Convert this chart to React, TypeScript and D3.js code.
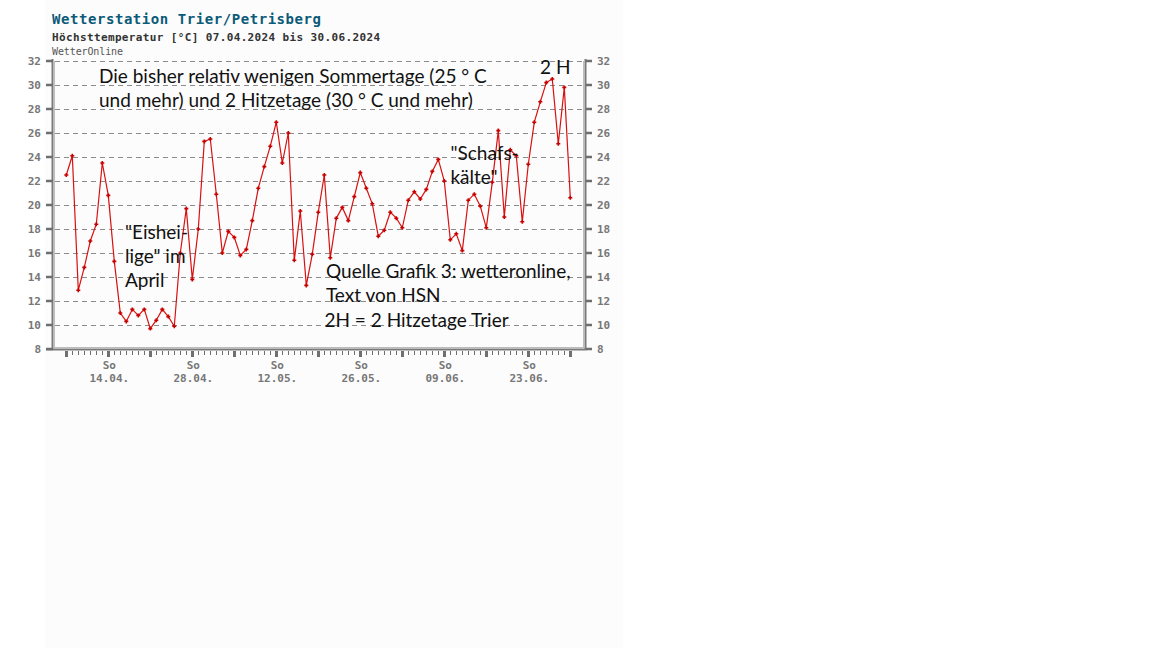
import React, { useRef, useEffect } from "react";
import * as d3 from "d3";

// Tageshöchsttemperatur Trier/Petrisberg, ab 07.04.2024 (Sonntag), ein Wert pro Tag
const startDate = "2024-04-07";
const endDate = "2024-06-30";
const temps: number[] = [
  22.5, 24.1, 12.9, 14.8, 17.0, 18.4, 23.5, 20.8, 15.3, 11.0,
  10.3, 11.3, 10.8, 11.3, 9.7, 10.4, 11.3, 10.7, 9.9, 16.0,
  19.7, 13.8, 18.0, 25.3, 25.5, 20.9, 16.0, 17.8, 17.3, 15.8,
  16.3, 18.7, 21.4, 23.2, 24.9, 26.9, 23.5, 26.0, 15.4, 19.5,
  13.3, 15.9, 19.4, 22.5, 15.6, 18.9, 19.8, 18.7, 20.7, 22.7,
  21.4, 20.1, 17.4, 17.9, 19.4, 18.9, 18.1, 20.4, 21.1, 20.5,
  21.3, 22.8, 23.8, 22.0, 17.1, 17.6, 16.2, 20.4, 20.9, 19.9,
  18.1, 21.9, 26.2, 19.0, 24.6, 24.1, 18.6, 23.4, 26.9, 28.6,
  30.2, 30.5, 25.1, 29.8, 20.6,
];
const yTicks = [8, 10, 12, 14, 16, 18, 20, 22, 24, 26, 28, 30, 32];
const xLabelDates = ["2024-04-14", "2024-04-28", "2024-05-12", "2024-05-26", "2024-06-09", "2024-06-23"];

const title = "Wetterstation Trier/Petrisberg";
const subtitle = "Höchsttemperatur [°C] 07.04.2024 bis 30.06.2024";
const source = "WetterOnline";

// Anmerkungen (Text, Anker in Datenkoordinaten: Datum mit Tagesbruchteil, Temperatur der Grundlinie)
const notes: { lines: string[]; date: string; temp: number }[] = [
  { lines: ["Die bisher relativ wenigen Sommertage (25 ° C", "und mehr) und 2 Hitzetage (30 ° C und mehr)"], date: "2024-04-12.45", temp: 30.17 },
  { lines: ["\"Eishei-", "lige\" im", "April"], date: "2024-04-16.78", temp: 17.17 },
  { lines: ["Quelle Grafik 3: wetteronline,", "Text von HSN"], date: "2024-05-20.28", temp: 13.92 },
  { lines: ["2H = 2 Hitzetage Trier"], date: "2024-05-20.03", temp: 9.83 },
  { lines: ["\"Schafs-", "kälte\""], date: "2024-06-10.03", temp: 23.75 },
  { lines: ["2 H"], date: "2024-06-24.95", temp: 30.92 },
];

const parseDate = (s: string) => {
  const [y, m, d] = s.split("-");
  const day = parseFloat(d);
  const base = new Date(+y, +m - 1, Math.floor(day));
  return new Date(base.getTime() + (day - Math.floor(day)) * 864e5);
};

const App: React.FC = () => {
  const ref = useRef<SVGSVGElement>(null);

  useEffect(() => {
    const svg = d3.select(ref.current);
    svg.selectAll("*").remove();

    const width = 1152,
      height = 648;
    const plot = { left: 53, right: 584, top: 61, bottom: 349 };

    const start = parseDate(startDate);
    const data = temps.map((t, i) => ({ date: d3.timeDay.offset(start, i), temp: t }));

    const x = d3
      .scaleTime()
      .domain([start, parseDate(endDate)])
      .range([66.3, 570.3]);
    const y = d3.scaleLinear().domain([8, 32]).range([plot.bottom, plot.top]);

    const mono = "'DejaVu Sans Mono', monospace";
    const gray = "#777";

    // faint background panel
    svg.append("rect").attr("x", 0).attr("y", 0).attr("width", width).attr("height", height).attr("fill", "#fff");
    svg.append("rect").attr("x", 45).attr("y", 0).attr("width", 578).attr("height", height).attr("fill", "#fcfcfc");

    // Titles
    svg
      .append("text")
      .attr("x", 52)
      .attr("y", 24)
      .attr("textLength", 269)
      .style("font-family", mono)
      .style("font-weight", "bold")
      .style("font-size", "14px")
      .style("fill", "#0b5a78")
      .text(title);
    svg
      .append("text")
      .attr("x", 52)
      .attr("y", 41)
      .attr("textLength", 328)
      .style("font-family", mono)
      .style("font-weight", "bold")
      .style("font-size", "11px")
      .style("fill", "#333")
      .text(subtitle);
    svg
      .append("text")
      .attr("x", 52)
      .attr("y", 55)
      .attr("textLength", 71)
      .style("font-family", mono)
      .style("font-size", "10px")
      .style("fill", "#555")
      .text(source);

    // Grid lines
    svg
      .append("g")
      .selectAll("line")
      .data(yTicks.filter((t) => t > 8))
      .enter()
      .append("line")
      .attr("x1", plot.left + 2)
      .attr("x2", plot.right - 2)
      .attr("y1", (d) => y(d) + 0.5)
      .attr("y2", (d) => y(d) + 0.5)
      .attr("stroke", "#8c8c8c")
      .attr("stroke-dasharray", "5,4");

    // Axis frame
    const frame = svg.append("g").attr("stroke", "#7a7a7a").attr("stroke-width", 2);
    frame.append("line").attr("x1", plot.left - 0.5).attr("x2", plot.left - 0.5).attr("y1", plot.top - 2).attr("y2", plot.bottom + 1);
    frame.append("line").attr("x1", plot.right + 1.5).attr("x2", plot.right + 1.5).attr("y1", plot.top - 2).attr("y2", plot.bottom + 1);
    frame.append("line").attr("x1", 46).attr("x2", plot.right + 2.5).attr("y1", plot.bottom + 0.5).attr("y2", plot.bottom + 0.5);
    const inner = svg.append("g").attr("stroke", "#bdbdbd").attr("stroke-width", 1);
    inner.append("line").attr("x1", plot.left + 1.5).attr("x2", plot.left + 1.5).attr("y1", plot.top).attr("y2", plot.bottom - 1);
    inner.append("line").attr("x1", plot.right - 0.5).attr("x2", plot.right - 0.5).attr("y1", plot.top).attr("y2", plot.bottom - 1);
    inner.append("line").attr("x1", plot.left + 1).attr("x2", plot.right).attr("y1", plot.bottom - 1.5).attr("y2", plot.bottom - 1.5);

    // Y ticks + labels, left and right
    const yAxis = svg.append("g");
    yTicks.forEach((t) => {
      yAxis.append("line").attr("x1", 46).attr("x2", plot.left).attr("y1", y(t)).attr("y2", y(t)).attr("stroke", "#6f6f6f").attr("stroke-width", 2.5);
      yAxis.append("line").attr("x1", plot.right + 2).attr("x2", plot.right + 8).attr("y1", y(t)).attr("y2", y(t)).attr("stroke", "#6f6f6f").attr("stroke-width", 2.5);
      yAxis
        .append("text")
        .attr("x", 41)
        .attr("y", y(t) + 4)
        .attr("text-anchor", "end")
        .style("font-family", mono)
        .style("font-weight", "bold")
        .style("font-size", "11px")
        .style("fill", gray)
        .text(t);
      yAxis
        .append("text")
        .attr("x", 597)
        .attr("y", y(t) + 4)
        .style("font-family", mono)
        .style("font-weight", "bold")
        .style("font-size", "11px")
        .style("fill", gray)
        .text(t);
    });

    // X ticks: daily minor, weekly (Sunday) major
    const xAxis = svg.append("g");
    xAxis
      .selectAll("line.minor")
      .data(data)
      .enter()
      .append("line")
      .attr("x1", (d) => Math.round(x(d.date)) + 0.5)
      .attr("x2", (d) => Math.round(x(d.date)) + 0.5)
      .attr("y1", plot.bottom + 2)
      .attr("y2", plot.bottom + 6)
      .attr("stroke", "#6f6f6f")
      .attr("stroke-width", 1);
    xAxis
      .selectAll("line.major")
      .data(d3.timeSunday.range(start, d3.timeDay.offset(parseDate(endDate), 1)))
      .enter()
      .append("line")
      .attr("x1", (d) => Math.round(x(d)) + 0.5)
      .attr("x2", (d) => Math.round(x(d)) + 0.5)
      .attr("y1", plot.bottom + 2)
      .attr("y2", plot.bottom + 8)
      .attr("stroke", "#6f6f6f")
      .attr("stroke-width", 3);
    const fmt = d3.timeFormat("%d.%m.");
    xLabelDates.map(parseDate).forEach((d) => {
      xAxis
        .append("text")
        .attr("x", x(d) + 1)
        .attr("y", 369)
        .attr("text-anchor", "middle")
        .style("font-family", mono)
        .style("font-weight", "bold")
        .style("font-size", "11px")
        .style("fill", gray)
        .text("So");
      xAxis
        .append("text")
        .attr("x", x(d) + 1)
        .attr("y", 382)
        .attr("text-anchor", "middle")
        .style("font-family", mono)
        .style("font-weight", "bold")
        .style("font-size", "11px")
        .style("fill", gray)
        .text(fmt(d));
    });

    // Temperature line
    const line = d3
      .line<{ date: Date; temp: number }>()
      .x((d) => x(d.date))
      .y((d) => y(d.temp));
    svg
      .append("path")
      .datum(data)
      .attr("fill", "none")
      .attr("stroke", "#d81010")
      .attr("stroke-width", 1.2)
      .attr("d", line);

    // Markers
    svg
      .append("g")
      .selectAll("path")
      .data(data)
      .enter()
      .append("path")
      .attr("d", (d) => {
        const cx = x(d.date),
          cy = y(d.temp);
        return `M${cx - 2},${cy}H${cx + 2}M${cx},${cy - 2}V${cy + 2}`;
      })
      .attr("stroke", "#c80000")
      .attr("stroke-width", 1.6);

    // Annotations
    notes.forEach((n) => {
      const ax = x(parseDate(n.date));
      const t = svg
        .append("text")
        .attr("x", ax)
        .attr("y", y(n.temp))
        .style("font-family", "Lato, 'Open Sans', sans-serif")
        .style("font-size", "19px")
        .style("fill", "#111");
      n.lines.forEach((l, i) => {
        t.append("tspan")
          .attr("x", ax)
          .attr("dy", i === 0 ? 0 : 24)
          .text(l);
      });
    });
  }, []);

  return (
    <svg
      ref={ref}
      width={1152}
      height={648}
      style={{ position: "absolute", left: 0, top: 0, display: "block" }}
    />
  );
};

export default App;
